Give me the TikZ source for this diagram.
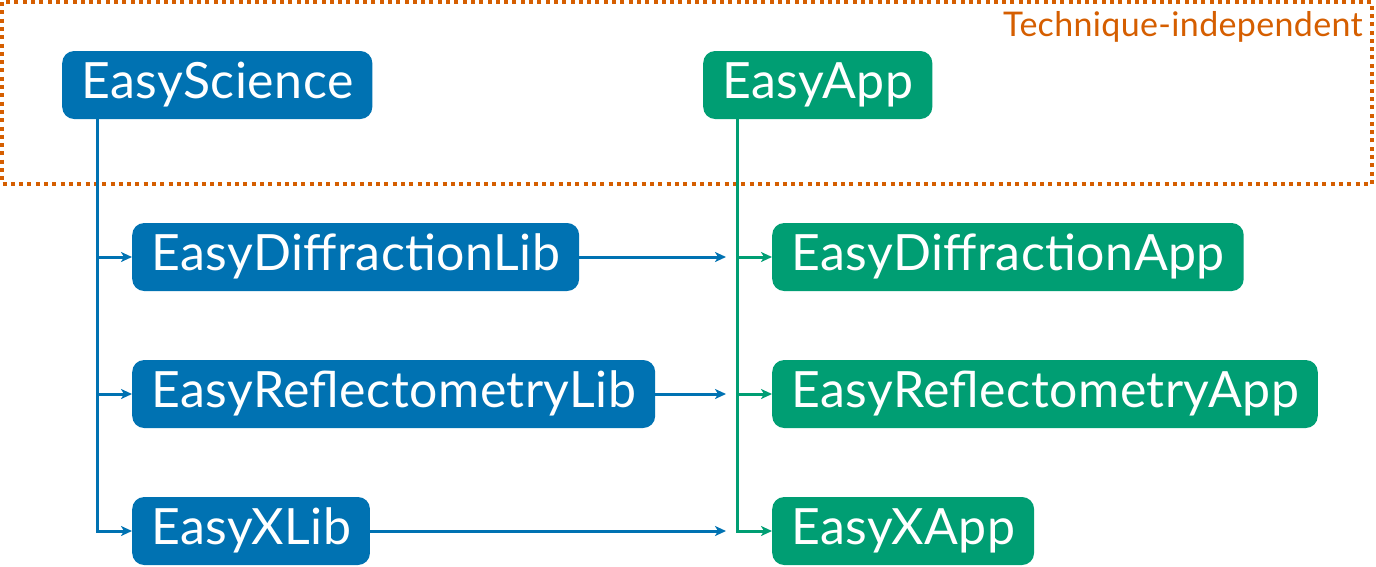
\documentclass[tikz,border=0pt]{standalone}
\usepackage{fontspec}
\setmainfont{Lato}[LetterSpace=1]
\usetikzlibrary{arrows.meta}
\usetikzlibrary{positioning}
\definecolor{libblue}{HTML}{0072B2}
\definecolor{appgreen}{HTML}{009E73}
\definecolor{techorange}{HTML}{D55E00}
\tikzset{
	pkg/.style={rounded corners=12pt, anchor=west, minimum height=68pt, inner xsep=19pt, text=white,
		text height=36pt, text depth=10pt, font=\fontsize{50}{58}\selectfont},
	libbox/.style={pkg, fill=libblue},
	appbox/.style={pkg, fill=appgreen},
	libline/.style={draw=libblue, line width=3pt, -{Stealth[length=11pt, width=10pt, inset=3pt]}},
	appline/.style={draw=appgreen, line width=3pt, -{Stealth[length=11pt, width=10pt, inset=3pt]}},
}
\begin{document}
\begin{tikzpicture}[x=1pt, y=-1pt]
				\useasboundingbox (0,0) rectangle (1376,566);
				\draw[techorange, line width=3.5pt, dash pattern=on 4pt off 4.3pt] (2,2) rectangle (1372,184);
				\node[techorange, anchor=base east, inner sep=0pt, font=\fontsize{34}{40}\selectfont] (techlabel) at (1363,36) {Technique-independent};
				
				\node[libbox] (sci) at (62,85) {EasyScience};
				\node[appbox] (app) at (703,85) {EasyApp};
				
				\node[libbox] (difflib) at (132,257) {EasyDiffractionLib};
				\node[libbox] (refllib) at (132,394) {EasyReflectometryLib};
				\node[libbox] (xlib) at (132,531) {EasyXLib};
				
				\node[appbox] (diffapp) at (772,257) {EasyDiffractionApp};
				\node[appbox] (reflapp) at (772,394) {EasyReflectometryApp};
				\node[appbox] (xapp) at (772,531) {EasyXApp};
				
				\coordinate (scitrunk) at ([xshift=35pt]sci.south west);
				\coordinate (apptrunk) at ([xshift=34pt]app.south west);
				\coordinate (bus) at (726,0);
				
				\draw[libline] (scitrunk) |- (xlib.west);
				\draw[libline] (scitrunk |- difflib.west) -- (difflib.west);
				\draw[libline] (scitrunk |- refllib.west) -- (refllib.west);
				
				\draw[appline] (apptrunk) |- (xapp.west);
				\draw[appline] (apptrunk |- diffapp.west) -- (diffapp.west);
				\draw[appline] (apptrunk |- reflapp.west) -- (reflapp.west);
				
				\draw[libline] (difflib.east) -- (difflib.east -| bus);
				\draw[libline] (refllib.east) -- (refllib.east -| bus);
				\draw[libline] (xlib.east) -- (xlib.east -| bus);
\end{tikzpicture}
\end{document}
